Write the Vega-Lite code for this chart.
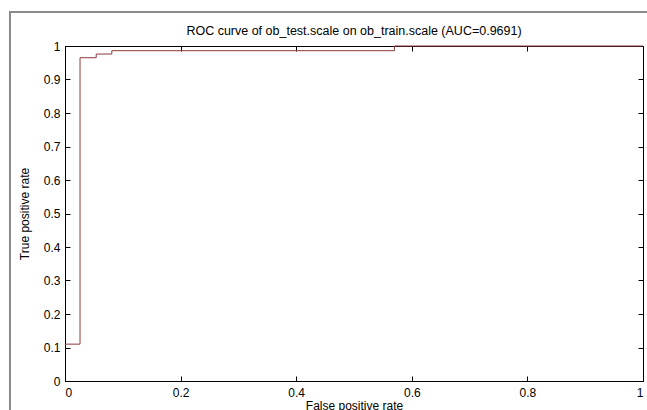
{
  "$schema": "https://vega.github.io/schema/vega-lite/v6.json",
  "width": 578,
  "height": 335,
  "autosize": {"type": "none"},
  "padding": {"left": 65, "top": 46, "right": 4, "bottom": 29},
  "background": "white",
  "config": {
    "font": "Liberation Sans",
    "view": {"stroke": "black", "strokeWidth": 1},
    "axis": {"grid": false, "domainColor": "black", "tickColor": "black", "labelColor": "black", "titleColor": "black", "labelFontSize": 12, "titleFontSize": 12, "titleFontWeight": "normal", "labelFont": "Liberation Sans", "titleFont": "Liberation Sans"}
  },
  "title": {"text": "ROC curve of ob_test.scale on ob_train.scale (AUC=0.9691)", "fontSize": 12.5, "fontWeight": "normal", "font": "Liberation Sans", "anchor": "middle", "offset": -27, "color": "black"},
  "datasets": {
    "roc": [
      {"fpr": 0, "tpr": 0.11},
      {"fpr": 0.026, "tpr": 0.965},
      {"fpr": 0.054, "tpr": 0.976},
      {"fpr": 0.081, "tpr": 0.986},
      {"fpr": 0.57, "tpr": 1},
      {"fpr": 1, "tpr": 1}
    ],
    "frame": [{"x1": -0.0952, "x2": 1.03, "y1": -0.12, "y2": 1.1015}]
  },
  "layer": [
    {
      "data": {"name": "frame"},
      "mark": {"type": "rect", "fill": null, "stroke": "#8a8a8a", "strokeWidth": 2, "clip": false},
      "encoding": {
        "x": {"field": "x1", "type": "quantitative", "scale": {"domain": [0, 1], "nice": false, "zero": false}, "axis": {"orient": "bottom", "values": [0, 0.2, 0.4, 0.6, 0.8, 1], "tickSize": -5, "labelPadding": 11, "format": "~g", "title": "False positive rate", "titlePadding": 2}},
        "x2": {"field": "x2"},
        "y": {"field": "y1", "type": "quantitative", "scale": {"domain": [0, 1], "nice": false, "zero": false}, "axis": {"orient": "left", "values": [0, 0.1, 0.2, 0.3, 0.4, 0.5, 0.6, 0.7, 0.8, 0.9, 1], "tickSize": -5, "labelPadding": 10, "format": "~g", "title": "True positive rate", "titlePadding": 12}},
        "y2": {"field": "y2"}
      }
    },
    {
      "data": {"name": "roc"},
      "mark": {"type": "line", "interpolate": "step-after", "color": "#8c3a3a", "strokeWidth": 1},
      "encoding": {
        "x": {"field": "fpr", "type": "quantitative", "axis": {"orient": "top", "values": [0, 0.2, 0.4, 0.6, 0.8, 1], "tickSize": -5, "labels": false, "title": null, "minExtent": 0, "maxExtent": 0}},
        "y": {"field": "tpr", "type": "quantitative", "axis": {"orient": "right", "values": [0, 0.1, 0.2, 0.3, 0.4, 0.5, 0.6, 0.7, 0.8, 0.9, 1], "tickSize": -5, "labels": false, "title": null, "minExtent": 0, "maxExtent": 0}}
      }
    }
  ],
  "resolve": {"axis": {"x": "independent", "y": "independent"}}
}
